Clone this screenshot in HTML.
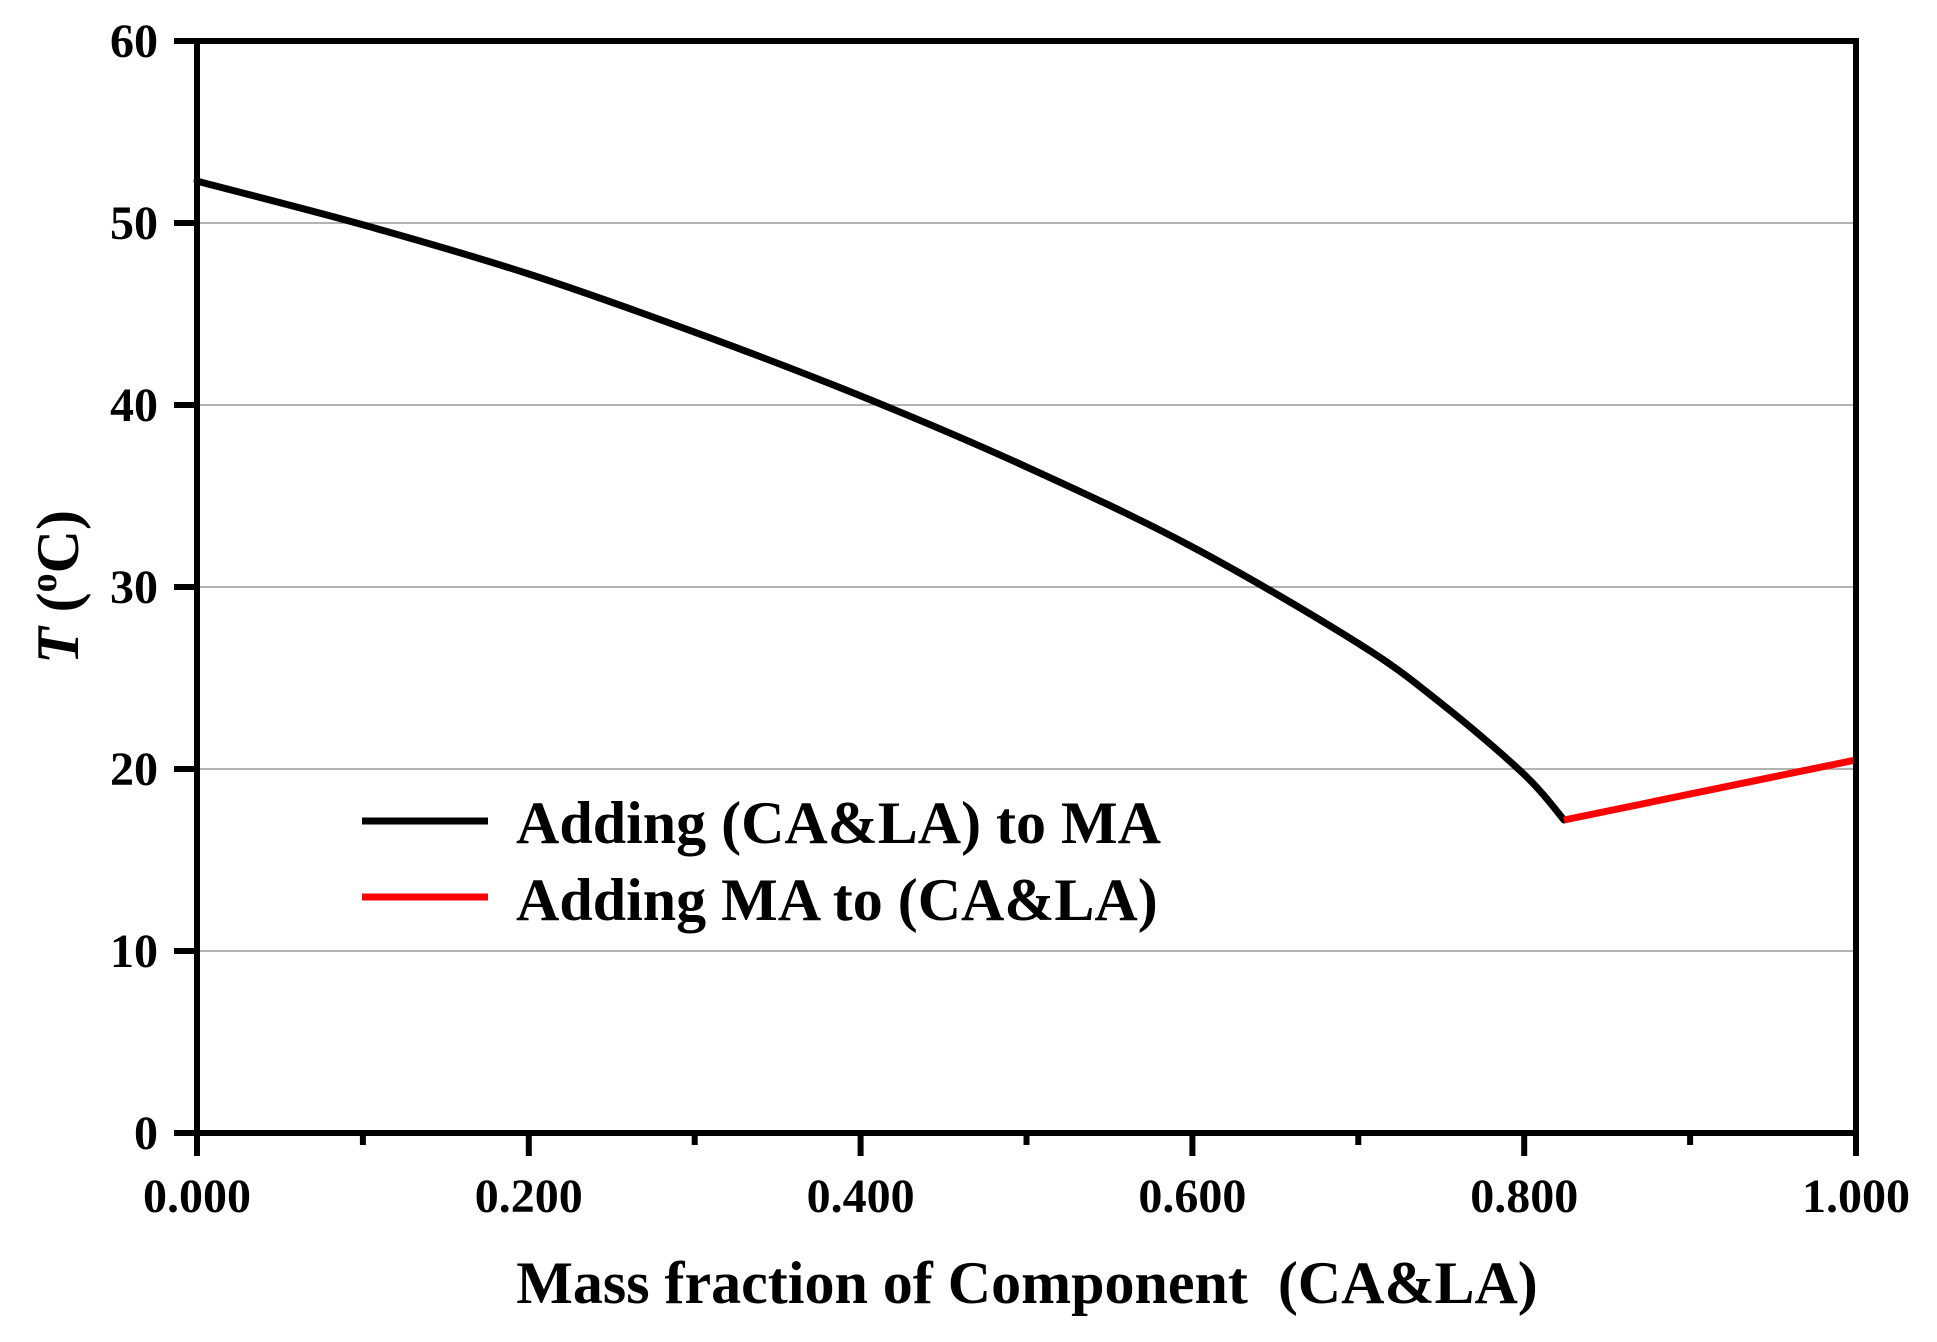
<!DOCTYPE html>
<html><head><meta charset="utf-8"><style>
html,body{margin:0;padding:0;background:#fff;}
svg{display:block;font-family:"Liberation Serif",serif;font-weight:bold;}
</style></head><body>
<svg id="chart" width="1937" height="1342" viewBox="0 0 1937 1342">
<rect width="1937" height="1342" fill="#fff"/>
<g id="grid"></g><g id="series"></g><g id="axes"></g>
<g>
 <line x1="362" y1="821" x2="488" y2="821" stroke="#000" stroke-width="7"/>
 <text x="516" y="843" font-size="60">Adding (CA&amp;LA) to MA</text>
 <line x1="362" y1="897" x2="488" y2="897" stroke="#f00" stroke-width="7"/>
 <text x="516" y="920" font-size="60">Adding MA to (CA&amp;LA)</text>
</g>
<text x="1027" y="1303" font-size="60" text-anchor="middle" xml:space="preserve">Mass fraction of Component  (CA&amp;LA)</text>
<text transform="translate(78,587) rotate(-90)" font-size="60" text-anchor="middle"><tspan font-style="italic">T</tspan> (<tspan font-size="38" dy="-22">o</tspan><tspan dy="22">C)</tspan></text>
</svg>
<script>
const blackX=[0,0.1,0.2,0.3,0.4,0.5,0.6,0.7,0.75,0.8,0.824];
const blackT=[52.3,49.9,47.2,44.0,40.5,36.6,32.2,26.9,23.6,19.7,17.2];
const redX=[0.824,1.0];
const redT=[17.2,20.5];
const xTicks=[0,0.2,0.4,0.6,0.8,1.0];
const xTickLabels=["0.000","0.200","0.400","0.600","0.800","1.000"];
const yTicks=[0,10,20,30,40,50,60];
const NS="http://www.w3.org/2000/svg";
const L=197,R=1856,T=41,B=1133;
const sx=v=>L+v*(R-L);
const sy=v=>B-v/60*(B-T);
function mk(tag,attrs,parent){const e=document.createElementNS(NS,tag);for(const k in attrs)e.setAttribute(k,attrs[k]);parent.appendChild(e);return e;}
const grid=document.getElementById('grid'),axes=document.getElementById('axes'),series=document.getElementById('series');
yTicks.forEach(v=>{
 if(v>0&&v<60){const g=mk('line',{x1:L,x2:R,y1:sy(v),y2:sy(v),stroke:'#999','stroke-width':1.5},grid);
 
 }
 const t=mk('line',{x1:L-23,x2:L,y1:sy(v),y2:sy(v),stroke:'#000','stroke-width':6},axes);
 
 
 const lb=mk('text',{x:L-39,y:sy(v)+16,'font-size':48,'text-anchor':'end'},axes);lb.textContent=v;
 
 
});
for(let i=1;i<10;i+=2){const m=mk('line',{x1:sx(i/10),x2:sx(i/10),y1:B,y2:B+12,stroke:'#000','stroke-width':6},axes);
 
 }
xTicks.forEach((v,i)=>{
 const t=mk('line',{x1:sx(v),x2:sx(v),y1:B,y2:B+23,stroke:'#000','stroke-width':6},axes);
 
 
 const lb=mk('text',{x:sx(v),y:1212,'font-size':48,'text-anchor':'middle'},axes);lb.textContent=xTickLabels[i];
 
 
});
const fr=mk('rect',{x:L,y:T,width:R-L,height:B-T,fill:'none',stroke:'#000','stroke-width':6},axes);


function smooth(xs,ys){
 const p=xs.map((x,i)=>[sx(x),sy(ys[i])]);
 let d='M'+p[0][0].toFixed(1)+' '+p[0][1].toFixed(1);
 for(let i=0;i<p.length-1;i++){
  const p0=p[Math.max(0,i-1)],p1=p[i],p2=p[i+1],p3=p[Math.min(p.length-1,i+2)];
  const c1=[p1[0]+(p2[0]-p0[0])/6,p1[1]+(p2[1]-p0[1])/6];
  const c2=[p2[0]-(p3[0]-p1[0])/6,p2[1]-(p3[1]-p1[1])/6];
  d+=' C'+c1.map(n=>n.toFixed(1)).join(' ')+' '+c2.map(n=>n.toFixed(1)).join(' ')+' '+p2[0].toFixed(1)+' '+p2[1].toFixed(1);
 }
 return d;
}
const pb=mk('path',{d:smooth(blackX,blackT),fill:'none',stroke:'#000','stroke-width':7,'stroke-linejoin':'round','stroke-linecap':'round'},series);


const pr=mk('path',{d:smooth(redX,redT),fill:'none',stroke:'#f00','stroke-width':7},series);


</script>
</body></html>
